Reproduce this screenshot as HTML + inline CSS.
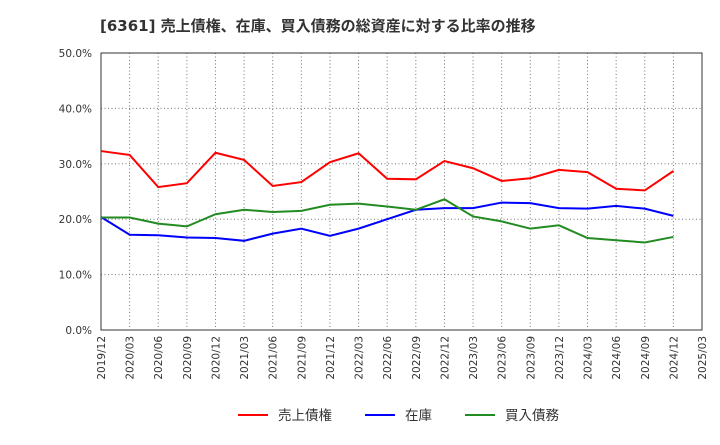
<!DOCTYPE html>
<html><head><meta charset="utf-8"><style>
body{margin:0;background:#fff;font-family:"Liberation Sans","Noto Sans CJK JP",sans-serif;}
</style></head><body>
<svg id="chart" width="720" height="440" xmlns="http://www.w3.org/2000/svg">
<text x="100" y="31" font-size="15" font-weight="bold" fill="#333" font-family="DejaVu Sans,Noto Sans CJK JP,sans-serif">[6361]  売上債権、在庫、買入債務の総資産に対する比率の推移</text>
<g id="grid"></g><g id="axes"></g><g id="series"></g><g id="legend"></g>
</svg>
<script>
const categories=["2019/12","2020/03","2020/06","2020/09","2020/12","2021/03","2021/06","2021/09","2021/12","2022/03","2022/06","2022/09","2022/12","2023/03","2023/06","2023/09","2023/12","2024/03","2024/06","2024/09","2024/12","2025/03"];
const receivables=[32.3,31.6,25.8,26.5,32.0,30.7,26.0,26.7,30.3,31.9,27.3,27.2,30.5,29.2,26.9,27.4,28.9,28.5,25.5,25.2,28.7];
const inventory=[20.4,17.2,17.1,16.7,16.6,16.1,17.4,18.3,17.0,18.3,20.0,21.7,22.0,22.0,23.0,22.9,22.0,21.9,22.4,21.9,20.6];
const payables=[20.3,20.3,19.2,18.7,20.9,21.7,21.3,21.5,22.6,22.8,22.3,21.7,23.6,20.5,19.6,18.3,18.9,16.6,16.2,15.8,16.8];
const yTicks=[0,10,20,30,40,50];
const NS="http://www.w3.org/2000/svg";
const L=101,R=702,T=53,B=330;
const x=i=>L+(R-L)*i/(categories.length-1);
const y=v=>B-(B-T)*v/50;
function mk(tag,attrs,parent){const e=document.createElementNS(NS,tag);for(const k in attrs)e.setAttribute(k,attrs[k]);document.getElementById(parent).appendChild(e);return e;}
const tf="DejaVu Sans,sans-serif";
categories.forEach((c,i)=>{
  if(i>0&&i<categories.length-1){const g=mk('line',{x1:x(i),x2:x(i),y1:T,y2:B,stroke:'#777','stroke-dasharray':'1,2.5'},'grid');
  
  }
  const t=mk('text',{x:0,y:0,'font-size':10.5,'font-family':tf,fill:'#333','text-anchor':'end',transform:`translate(${x(i)+4},${B+6}) rotate(-90)`},'axes');
  t.textContent=c;
  
  
});
yTicks.forEach(v=>{
  if(v>0&&v<50){const g=mk('line',{x1:L,x2:R,y1:y(v),y2:y(v),stroke:'#777','stroke-dasharray':'1,2.5'},'grid');
  
  }
  const t=mk('text',{x:L-9,y:y(v)+4,'font-size':10.5,'font-family':tf,fill:'#333','text-anchor':'end'},'axes');
  t.textContent=v.toFixed(1)+'%';
  
  
});
const frame=mk('rect',{x:L,y:T,width:R-L,height:B-T,fill:'none',stroke:'#333','stroke-width':1},'axes');


const defs=[[receivables,'#ff0000','売上債権','receivables'],[inventory,'#0000ff','在庫','inventory'],[payables,'#228b22','買入債務','payables']];
defs.forEach(([d,col,lab,key],k)=>{
  const p=mk('polyline',{points:d.map((v,i)=>x(i)+','+y(v)).join(' '),fill:'none',stroke:col,'stroke-width':2},'series');
  
  
  const lx=[238,365,465][k];
  const ll=mk('line',{x1:lx,x2:lx+30,y1:415,y2:415,stroke:col,'stroke-width':2},'legend');
  
  
  const lt=mk('text',{x:lx+40,y:420,'font-size':13.5,fill:'#333'},'legend');
  lt.textContent=lab;
  
  
});
</script>
</body></html>
